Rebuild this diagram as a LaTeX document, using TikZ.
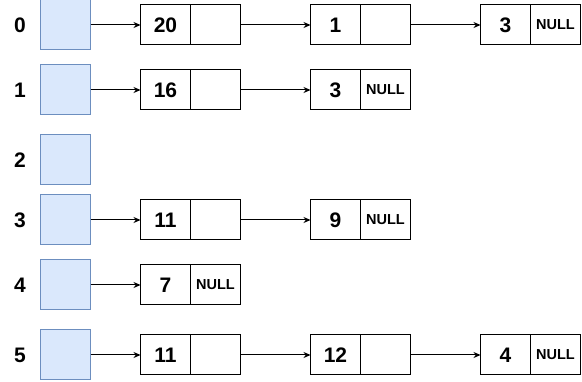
\documentclass[tikz,border=0pt]{standalone}
\usepackage{fontspec}
\setmainfont{Liberation Sans}
\usetikzlibrary{arrows.meta, positioning}
\definecolor{bucketblue}{HTML}{DAE8FC}
\definecolor{bucketblueborder}{HTML}{6C8EBF}

\begin{document}
\begin{tikzpicture}[
    x=1pt, y=-1pt, line width=1pt,
    bucket/.style={draw=bucketblueborder, fill=bucketblue,
      minimum width=50pt, minimum height=50pt, inner sep=0pt},
    cell/.style={draw, minimum width=50pt, minimum height=40pt,
      inner sep=0pt, outer sep=0pt, font=\bfseries\fontsize{21}{25}\selectfont},
    nullcell/.style={cell, font=\bfseries\fontsize{14.5}{17}\selectfont},
    idx/.style={font=\bfseries\fontsize{21}{25}\selectfont},
    >={Stealth[length=7pt, width=6pt]}
  ]
  \useasboundingbox (0,0) rectangle (582,382);
  % buckets and their indices
  \foreach \i/\y in {0/25, 1/90, 2/160, 3/220, 4/285, 5/355} {
    \node[bucket] (b\i) at (65,\y) {};
    \node[idx] (i\i) at (20,\y) {\i};
  }
  % chain 0
  \node[cell, right=50pt of b0] (v0a) {20};
  \node[cell, right=0pt of v0a] (p0a) {};
  \node[cell, right=70pt of p0a] (v0b) {1};
  \node[cell, right=0pt of v0b] (p0b) {};
  \node[cell, right=70pt of p0b] (v0c) {3};
  \node[nullcell, right=0pt of v0c] (p0c) {NULL};
  \draw[->] (b0) -- (v0a);
  \draw[->] (p0a) -- (v0b);
  \draw[->] (p0b) -- (v0c);
  % chain 1
  \node[cell, right=50pt of b1] (v1a) {16};
  \node[cell, right=0pt of v1a] (p1a) {};
  \node[cell, right=70pt of p1a] (v1b) {3};
  \node[nullcell, right=0pt of v1b] (p1b) {NULL};
  \draw[->] (b1) -- (v1a);
  \draw[->] (p1a) -- (v1b);
  % chain 3
  \node[cell, right=50pt of b3] (v3a) {11};
  \node[cell, right=0pt of v3a] (p3a) {};
  \node[cell, right=70pt of p3a] (v3b) {9};
  \node[nullcell, right=0pt of v3b] (p3b) {NULL};
  \draw[->] (b3) -- (v3a);
  \draw[->] (p3a) -- (v3b);
  % chain 4
  \node[cell, right=50pt of b4] (v4a) {7};
  \node[nullcell, right=0pt of v4a] (p4a) {NULL};
  \draw[->] (b4) -- (v4a);
  % chain 5
  \node[cell, right=50pt of b5] (v5a) {11};
  \node[cell, right=0pt of v5a] (p5a) {};
  \node[cell, right=70pt of p5a] (v5b) {12};
  \node[cell, right=0pt of v5b] (p5b) {};
  \node[cell, right=70pt of p5b] (v5c) {4};
  \node[nullcell, right=0pt of v5c] (p5c) {NULL};
  \draw[->] (b5) -- (v5a);
  \draw[->] (p5a) -- (v5b);
  \draw[->] (p5b) -- (v5c);
\end{tikzpicture}
\end{document}
